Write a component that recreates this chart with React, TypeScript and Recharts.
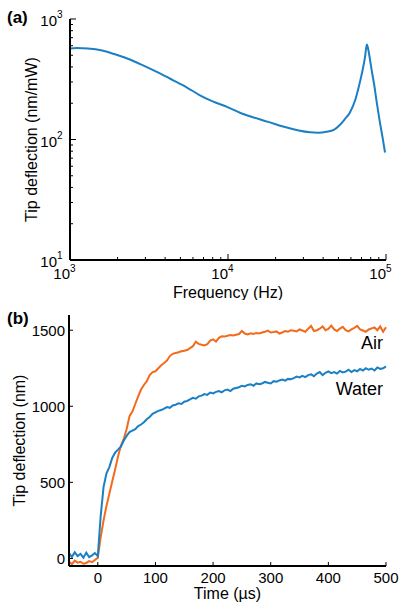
import React from 'react';
import { LineChart, Line, XAxis, YAxis, ReferenceDot } from 'recharts';

const FONT = '"Liberation Sans", Arial, sans-serif';
const BLUE = '#1b7fc4';
const ORANGE = '#f26b1d';

// (a) frequency response, log-log
const freqHz = [
  1000, 1100, 1300, 1600, 1900, 2300, 2900, 3600, 4500, 5500, 6600, 8000, 10000, 12000,
  14400, 18000, 22300, 28000, 33000, 37000, 42000, 47000, 51000, 55000, 59000, 64000,
  68400, 71500, 73600, 75600, 77000, 79000, 81100, 84000, 87300, 91000, 95000, 98600,
];
const response = [
  568, 575, 570, 548, 512, 470, 412, 360, 310, 270, 234, 207, 185, 166,
  153, 140, 128, 119, 115, 114, 116, 121, 132, 148, 167, 215,
  300, 390, 480, 615, 570, 470, 378, 290, 205, 145, 105, 78,
];
const freqTicks = [
  1000, 2000, 3000, 4000, 5000, 6000, 7000, 8000, 9000,
  10000, 20000, 30000, 40000, 50000, 60000, 70000, 80000, 90000, 100000,
];
const respTicks = [10, 20, 30, 40, 50, 60, 70, 80, 90, 100, 200, 300, 400, 500, 600, 700, 800, 900, 1000];

// (b) step response
const timeUs = [
  -50, -45, -40, -35, -30, -25, -20, -15, -10, -5, 0, 5, 10, 15, 20, 25, 30, 35, 40, 45,
  50, 55, 60, 65, 70, 75, 80, 85, 90, 95, 100, 105, 110, 115, 120, 125, 130, 135, 140, 145,
  150, 155, 160, 165, 170, 175, 180, 185, 190, 195, 200, 205, 210, 215, 220, 225, 230, 235, 240, 245,
  250, 255, 260, 265, 270, 275, 280, 285, 290, 295, 300, 305, 310, 315, 320, 325, 330, 335, 340, 345,
  350, 355, 360, 365, 370, 375, 380, 385, 390, 395, 400, 405, 410, 415, 420, 425, 430, 435, 440, 445,
  450, 455, 460, 465, 470, 475, 480, 485, 490, 495, 500,
];
const airNm = [
  -20, -38, -15, -28, -22, -35, -30, -18, -25, -10, 5, 140, 250, 345, 425, 505, 585, 670, 740, 785,
  850, 935, 965, 1015, 1065, 1110, 1140, 1165, 1205, 1225, 1230, 1250, 1270, 1285, 1300, 1330, 1345, 1350, 1355, 1362,
  1365, 1370, 1382, 1395, 1425, 1410, 1405, 1400, 1408, 1432, 1440, 1425, 1450, 1460, 1458, 1463, 1468, 1465, 1470, 1475,
  1495, 1478, 1472, 1480, 1476, 1482, 1478, 1485, 1490, 1497, 1485, 1488, 1492, 1478, 1485, 1495, 1490, 1500, 1497, 1492,
  1505, 1498, 1490, 1510, 1528, 1495, 1500, 1510, 1525, 1500, 1508, 1530, 1505, 1495, 1510, 1522, 1500, 1492, 1505, 1515,
  1528, 1505, 1498, 1490, 1505, 1512, 1518, 1500, 1525, 1490, 1520,
];
const waterNm = [
  35, 10, 40, 15, 30, 5, 38, 8, 20, 35, 15, 280, 470, 560, 600, 660, 695, 715, 735, 775,
  805, 830, 840, 850, 870, 880, 895, 915, 930, 950, 960, 970, 975, 985, 995, 990, 1005, 1010, 1020, 1015,
  1030, 1035, 1045, 1055, 1050, 1065, 1070, 1080, 1075, 1090, 1085, 1095, 1100, 1092, 1105, 1110, 1100, 1115, 1120, 1125,
  1135, 1130, 1140, 1145, 1135, 1150, 1145, 1150, 1160, 1155, 1150, 1165, 1162, 1170, 1175, 1168, 1180, 1178, 1185, 1195,
  1190, 1200, 1192, 1205, 1210, 1198, 1215, 1225, 1205, 1220, 1230, 1218, 1225, 1215, 1232, 1222, 1228, 1240, 1225, 1238,
  1230, 1245, 1235, 1250, 1240, 1248, 1235, 1255, 1245, 1250, 1262,
];
const timeTicks = [0, 100, 200, 300, 400, 500];
const deflTicks = [0, 500, 1000, 1500];

const responseData = freqHz.map((f, i) => ({ f, amp: response[i] }));
const stepData = timeUs.map((t, i) => ({ t, air: airNm[i], water: waterNm[i] }));

const isDecade = (v: number) => Math.abs(Math.log10(v) - Math.round(Math.log10(v))) < 1e-9;

const LogXTick = (props: any) => {
  const { x, y, payload } = props;
  const v = payload.value;
  const major = isDecade(v);
  return (
    <g>
      <line x1={x} x2={x} y1={y} y2={y - (major ? 6 : 3)} stroke="#000" strokeWidth={1} />
      {major && (
        <g fontFamily={FONT} fill="#000">
          <text x={x} y={y + 19} textAnchor="end" fontSize={15}>10</text>
          <text x={x} y={y + 12} textAnchor="start" fontSize={10}>{Math.round(Math.log10(v))}</text>
        </g>
      )}
    </g>
  );
};

const LogYTick = (props: any) => {
  const { x, y, payload } = props;
  const v = payload.value;
  const major = isDecade(v);
  return (
    <g>
      <line x1={x} x2={x + (major ? 6 : 3)} y1={y} y2={y} stroke="#000" strokeWidth={1} />
      {major && (
        <g fontFamily={FONT} fill="#000">
          <text x={x - 13} y={y + 7} textAnchor="end" fontSize={15}>10</text>
          <text x={x - 13} y={y - 1} textAnchor="start" fontSize={10}>{Math.round(Math.log10(v))}</text>
        </g>
      )}
    </g>
  );
};

const LinXTick = (props: any) => {
  const { x, y, payload } = props;
  return (
    <g>
      <line x1={x} x2={x} y1={y} y2={y - 4} stroke="#000" strokeWidth={1} />
      <text x={x} y={y + 17} textAnchor="middle" fontSize={15} fontFamily={FONT} fill="#000">
        {payload.value}
      </text>
    </g>
  );
};

const LinYTick = (props: any) => {
  const { x, y, payload } = props;
  return (
    <g>
      <line x1={x} x2={x + 4} y1={y} y2={y} stroke="#000" strokeWidth={1} />
      <text x={x - 4} y={y + 5.5} textAnchor="end" fontSize={15} fontFamily={FONT} fill="#000">
        {payload.value}
      </text>
    </g>
  );
};

const panelLabel: React.CSSProperties = {
  position: 'absolute',
  left: 7,
  fontFamily: FONT,
  fontWeight: 'bold',
  fontSize: 17,
  lineHeight: '17px',
  color: '#000',
};

export default function App() {
  return (
    <div style={{ position: 'absolute', left: 0, top: 0, width: 406, height: 611, background: '#fff' }}>
      <div style={{ position: 'absolute', left: 0, top: 0 }}>
        <LineChart width={406} height={300} data={responseData} margin={{ top: 19, right: 20, bottom: 0, left: 0 }}>
          <XAxis
            type="number"
            dataKey="f"
            scale="log"
            domain={[1000, 100000]}
            ticks={freqTicks}
            interval={0}
            height={40}
            tickSize={0}
            tickMargin={0}
            tickLine={false}
            axisLine={{ stroke: '#000', strokeWidth: 2 }}
            tick={LogXTick}
            label={{ value: 'Frequency (Hz)', position: 'insideBottom', offset: 2, fontSize: 16, fill: '#000', fontFamily: FONT }}
          />
          <YAxis
            type="number"
            scale="log"
            domain={[10, 1000]}
            ticks={respTicks}
            interval={0}
            width={70}
            tickSize={0}
            tickMargin={0}
            tickLine={false}
            axisLine={{ stroke: '#000', strokeWidth: 2 }}
            tick={LogYTick}
            allowDataOverflow
            label={{
              value: 'Tip deflection (nm/mW)',
              angle: -90,
              position: 'insideLeft',
              offset: 31,
              fontSize: 16,
              fill: '#000',
              fontFamily: FONT,
              style: { textAnchor: 'middle' },
            }}
          />
          <Line type="monotone" dataKey="amp" stroke={BLUE} strokeWidth={2} dot={false} isAnimationActive={false} />
        </LineChart>
      </div>
      <div style={{ ...panelLabel, top: 8.6 }}>(a)</div>

      <div style={{ position: 'absolute', left: 0, top: 300 }}>
        <LineChart width={406} height={311} data={stepData} margin={{ top: 15, right: 20, bottom: 0, left: 0 }}>
          <XAxis
            type="number"
            dataKey="t"
            domain={[-50, 500]}
            ticks={timeTicks}
            interval={0}
            height={45}
            tickSize={0}
            tickMargin={0}
            tickLine={false}
            axisLine={{ stroke: '#000', strokeWidth: 2 }}
            tick={LinXTick}
            label={{ value: 'Time (µs)', position: 'insideBottom', offset: 12, fontSize: 16, fill: '#000', fontFamily: FONT }}
          />
          <YAxis
            type="number"
            domain={[-50, 1600]}
            ticks={deflTicks}
            interval={0}
            width={69}
            tickSize={0}
            tickMargin={0}
            tickLine={false}
            axisLine={{ stroke: '#000', strokeWidth: 2 }}
            tick={LinYTick}
            label={{
              value: 'Tip deflection (nm)',
              angle: -90,
              position: 'insideLeft',
              offset: 19,
              fontSize: 16,
              fill: '#000',
              fontFamily: FONT,
              style: { textAnchor: 'middle' },
            }}
          />
          <Line type="linear" dataKey="air" stroke={ORANGE} strokeWidth={2} dot={false} isAnimationActive={false} />
          <Line type="linear" dataKey="water" stroke={BLUE} strokeWidth={2} dot={false} isAnimationActive={false} />
          <ReferenceDot
            x={500}
            y={1419}
            r={0}
            stroke="none"
            label={{ value: 'Air', position: 'left', offset: 3, fontSize: 18, fill: '#000', fontFamily: FONT }}
          />
          <ReferenceDot
            x={500}
            y={1117}
            r={0}
            stroke="none"
            label={{ value: 'Water', position: 'left', offset: 3, fontSize: 18, fill: '#000', fontFamily: FONT }}
          />
        </LineChart>
      </div>
      <div style={{ ...panelLabel, top: 309.6 }}>(b)</div>
    </div>
  );
}
